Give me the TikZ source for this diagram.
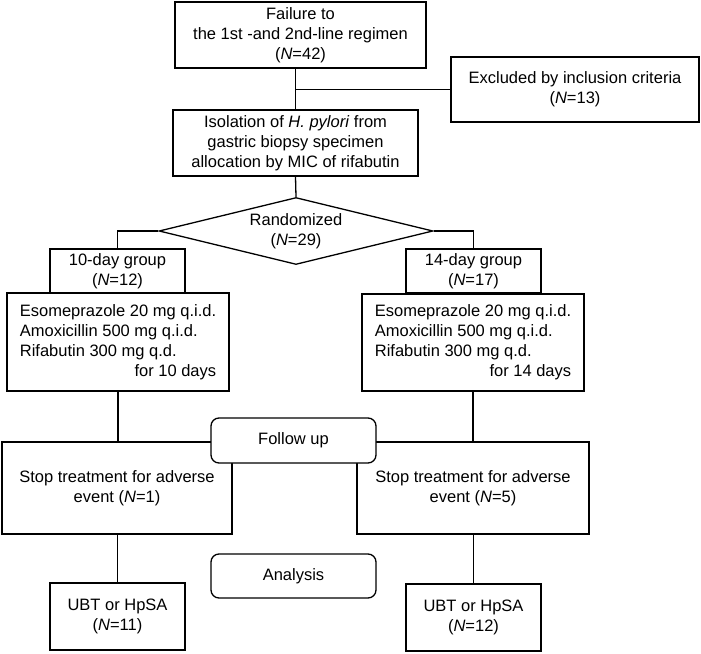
\documentclass[tikz,border=0pt]{standalone}
\usepackage{fontspec}
\setmainfont{Liberation Sans}
\usetikzlibrary{shapes.geometric}
\begin{document}
\begin{tikzpicture}[x=1pt,y=-1pt,
  every node/.style={font=\fontsize{16.5}{20}\selectfont, inner sep=0pt, align=center},
  box/.style 2 args={draw, line width=1.3pt, fill=white, minimum width=#1pt, minimum height=#2pt},
  rbox/.style 2 args={box={#1}{#2}, rounded corners=8pt},
  link/.style={line width=1.3pt}]
\useasboundingbox (0,0) rectangle (701,653);
\node[box={251}{66}] (top) at (300.5,35) {Failure to\\the 1st -and 2nd-line regimen\\(\textit{N}=42)};
\node[box={248}{65}] (excl) at (575,89.5) {Excluded by inclusion criteria\\(\textit{N}=13)};
\node[box={245}{66}] (iso) at (295.5,143) {Isolation of \textit{H. pylori} from\\gastric biopsy specimen\\allocation by MIC of rifabutin};
\node[draw, line width=1.3pt, diamond, aspect=4, minimum width=274pt, minimum height=67pt] (rand) at (296,231) {Randomized\\(\textit{N}=29)};
\node[box={135}{44}] (g10) at (117.5,271) {10-day group\\(\textit{N}=12)};
\node[box={135}{44}] (g14) at (473.5,271) {14-day group\\(\textit{N}=17)};
\node[box={222}{98}] (reg10) at (118,342) {\begin{tabular}{@{}l@{}}Esomeprazole 20 mg q.i.d.\\Amoxicillin 500 mg q.i.d.\\Rifabutin 300 mg q.d.\\\multicolumn{1}{@{}r@{}}{for 10 days}\end{tabular}};
\node[box={222}{97}] (reg14) at (473,342.5) {\begin{tabular}{@{}l@{}}Esomeprazole 20 mg q.i.d.\\Amoxicillin 500 mg q.i.d.\\Rifabutin 300 mg q.d.\\\multicolumn{1}{@{}r@{}}{for 14 days}\end{tabular}};
\node[box={230}{92}] (stop10) at (117,488) {Stop treatment for adverse\\event (\textit{N}=1)};
\node[box={232}{92}] (stop14) at (473,488) {Stop treatment for adverse\\event (\textit{N}=5)};
\node[rbox={165}{45}] (follow) at (293.5,440.5) {Follow up};
\node[rbox={165}{44}] (anal) at (293.5,576) {Analysis};
\node[box={135}{67}] (ubt11) at (117.5,616.5) {UBT or HpSA\\(\textit{N}=11)};
\node[box={135}{67}] (ubt12) at (473.5,617.5) {UBT or HpSA\\(\textit{N}=12)};
\draw[link] (top.south -| iso.north) -- (iso.north);
\draw[link] (iso.north |- excl.west) -- (excl.west);
\draw[link] (iso.south) -- (rand.north);
\draw[link] (rand.west) -| (g10.north);
\draw[link] (rand.east) -| (g14.north);
\draw[link] (reg10.south) -- (reg10.south |- stop10.north);
\draw[link] (reg14.south) -- (reg14.south |- stop14.north);
\draw[link] (ubt11.north |- stop10.south) -- (ubt11.north);
\draw[link] (ubt12.north |- stop14.south) -- (ubt12.north);
\end{tikzpicture}
\end{document}
